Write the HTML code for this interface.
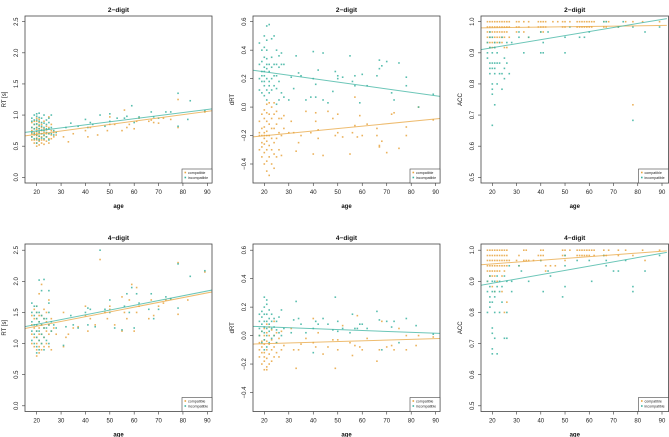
<!DOCTYPE html>
<html><head><meta charset="utf-8"><style>
html,body{margin:0;padding:0;background:#fff;}
svg{display:block;font-family:"Liberation Sans",sans-serif;}
</style></head><body>
<svg id="fig" width="669" height="437" viewBox="0 0 669 437" xmlns="http://www.w3.org/2000/svg"></svg>
<script>
// ---------- data ----------
const xTicks=[20,30,40,50,60,70,80,90];
const rtTicks=[0,0.5,1.0,1.5,2.0,2.5];
const drtTicks=[-0.4,-0.2,0,0.2,0.4,0.6];
const accTicks=[0.5,0.6,0.7,0.8,0.9,1.0];
const titles=["2\u2212digit","2\u2212digit","2\u2212digit","4\u2212digit","4\u2212digit","4\u2212digit"];
const yLabels=["RT [s]","dRT","ACC","RT [s]","dRT","ACC"];
// groups: [age, [values...]]
const p1Comp=[[18,[.6,.65,.7,.75,.8,.88]],[19,[.55,.6,.68,.72,.78,.85,.9]],[20,[.5,.55,.6,.63,.67,.7,.73,.77,.8,.85,.9,.95]],[21,[.52,.58,.62,.66,.7,.74,.78,.82,.88,.93]],[22,[.55,.6,.65,.7,.75,.8,.85]],[23,[.53,.6,.67,.72,.78,.9]],[24,[.58,.65,.7,.76,.82]],[25,[.55,.62,.7,.8,.97]],[26,[.62,.68,.75,.85]],[27,[.65,.72]],[28,[.68]],[31,[.65]],[33,[.57]],[35,[.7]],[40,[.75]],[41,[.65]],[42,[.8]],[45,[.68]],[49,[.75]],[50,[.85,.97]],[52,[.85]],[55,[.75]],[56,[1.08]],[57,[.8]],[58,[.85]],[60,[.78]],[61,[.9]],[62,[.95]],[66,[.9]],[67,[.92]],[68,[.88]],[70,[.87]],[72,[.95]],[75,[.93]],[78,[1.25,.8]],[89,[1.05]]];
const p1Inc=[[18,[.65,.72,.8,.9,.95]],[19,[.62,.7,.78,.85,.92,1.0]],[20,[.55,.62,.68,.74,.8,.86,.92,.98,1.02]],[21,[.6,.66,.72,.78,.84,.9,.96,1.03]],[22,[.63,.7,.76,.82,.88,.95]],[23,[.62,.68,.75,.8,.87,1.0]],[24,[.65,.72,.78,.85,.92]],[25,[.6,.7,.78,.88,.95]],[26,[.7,.8,1.0]],[27,[.68,.75]],[28,[.72]],[32,[.8]],[34,[.87]],[37,[.82]],[40,[.93]],[41,[.8]],[42,[.88]],[43,[.85]],[46,[1.0]],[48,[.82]],[50,[1.02,.9]],[53,[.95]],[56,[.95]],[57,[.98]],[59,[1.15]],[60,[.88]],[62,[.97]],[67,[1.05]],[68,[.97]],[70,[.95]],[73,[1.05]],[75,[1.05]],[78,[1.35,.82]],[82,[.93]],[83,[1.23]],[89,[1.07]]];
const p2Comp=[[18,[-.3,-.2,-.1,-.18]],[19,[-.35,-.25,-.15,-.05,-.2,-.28]],[20,[-.4,-.32,-.26,-.2,-.14,-.08,-.02,-.18,-.22]],[21,[-.45,-.38,-.3,-.24,-.17,-.1,-.04,.02,-.2]],[22,[-.48,-.35,-.27,-.2,-.12,-.05,.03]],[23,[-.4,-.3,-.22,-.15,-.08,0]],[24,[-.43,-.33,-.25,-.15,-.05,.03]],[25,[-.35,-.22,-.12,-.03]],[26,[-.3,-.18,-.08]],[27,[-.34,-.2,-.08]],[28,[-.15,-.06]],[30,[-.18]],[31,[-.1]],[32,[-.18]],[33,[-.31]],[34,[-.25]],[35,[-.2]],[37,[-.03]],[39,[-.18]],[40,[-.33]],[41,[-.1,-.04]],[42,[-.22,-.16]],[44,[-.34]],[46,[-.03]],[48,[-.08]],[49,[-.2]],[50,[-.18,-.05]],[52,[-.21]],[55,[-.33]],[56,[-.18]],[57,[-.13,.07]],[58,[-.21]],[59,[-.06]],[60,[-.2]],[62,[-.12]],[66,[-.15,-.2]],[67,[-.27,-.28]],[68,[-.24]],[70,[-.32]],[72,[-.05]],[73,[-.04]],[75,[-.29]],[78,[-.14,-.2]],[83,[0]],[89,[-.09]]];
const p2Inc=[[18,[.12,.2,.3,.45]],[19,[.1,.18,.25,.32,.4,.22]],[20,[.08,.15,.22,.28,.35,.42,.5,.25,.18]],[21,[.05,.12,.2,.27,.34,.4,.47,.57,.3]],[22,[.1,.18,.25,.3,.58,.15]],[23,[.12,.2,.28,.35,.48]],[24,[.15,.22,.3,.5]],[25,[.02,.13,.22,.3,.4]],[26,[.05,.18,.28,.36]],[27,[.1,.3,.38]],[28,[.07,.3]],[30,[.05]],[31,[.21]],[32,[.13]],[33,[.36]],[34,[.24]],[35,[.22]],[37,[.05]],[39,[.07]],[40,[.39,.2]],[41,[.07,.16]],[42,[.26]],[44,[.38,.05]],[46,[.03]],[48,[.11]],[49,[.25]],[50,[.2,.22]],[52,[.21]],[55,[.36]],[56,[.18]],[57,[.15,.22]],[59,[.03]],[60,[.23]],[62,[.15]],[66,[.22]],[67,[.33,.27]],[68,[.29]],[70,[.32]],[72,[.1]],[73,[.05]],[75,[.31]],[78,[.15,.21]],[83,[0]],[89,[.09]]];
const p3Comp=[[18,[1,.983,.967,.95,.933]],[19,[1,.983,.967,.95,.933,.917]],[20,[1,.983,.967,.95,.933,.917]],[21,[1,.983,.967,.95,.933,.917]],[22,[1,.983,.967,.95,.933]],[23,[1,.983,.967,.95,.933]],[24,[1,.983,.967,.95,.933]],[25,[1,.983,.967,.95,.917]],[26,[1,.983,.967,.917]],[27,[1,.983,.95]],[30,[1,.983,.967]],[31,[1,.983]],[33,[1,.967]],[35,[1,.983,.95]],[39,[1,.983]],[40,[1,.983,.967]],[41,[1,.983,.967]],[42,[1,.983]],[45,[1]],[47,[1]],[49,[1,.983]],[50,[1,.983]],[52,[1]],[55,[1,.983]],[56,[1,.983]],[57,[1,.983]],[58,[1,.983]],[59,[1,.983]],[60,[1,.983]],[61,[1,.983]],[62,[1]],[66,[1,.983]],[67,[1,.983]],[68,[1]],[72,[.983]],[75,[1]],[78,[1,.733]],[82,[1]],[89,[1]]];
const p3Inc=[[18,[.9,.883,.933]],[19,[.867,.85,.833,.95,.967,.917]],[20,[.9,.867,.85,.8,.783,.767,.667,.95]],[21,[.867,.85,.833,.733,.917,.933]],[22,[.867,.8,.9]],[23,[.867,.833,.933]],[24,[.833,.783,.95]],[25,[.883,.85,.817]],[26,[.867,.933]],[27,[.833]],[28,[.933]],[31,[.967,.95]],[33,[.9]],[35,[.95]],[40,[.967,.9]],[41,[.933,.9]],[43,[.967]],[50,[.95,.9]],[52,[.983]],[56,[.95]],[58,[.95]],[60,[.967]],[66,[1]],[67,[1]],[72,[.983]],[74,[1]],[78,[.683,.983]],[83,[.967]],[89,[.983]]];
const p4Comp=[[18,[1.0,1.15,1.3,1.45]],[19,[.95,1.1,1.25,1.4,1.55]],[20,[.8,.9,1.0,1.1,1.2,1.3,1.4,1.5,1.6]],[21,[.85,.95,1.05,1.15,1.25,1.35,1.45,1.8]],[22,[.9,1.0,1.15,1.3,1.45,1.95]],[23,[.95,1.1,1.25,1.4,1.55]],[24,[1.0,1.2,1.35,1.5]],[25,[.95,1.15,1.3,1.7]],[26,[.9,1.2,1.4]],[27,[1.25]],[28,[1.15]],[31,[.95,1.5]],[32,[1.1]],[33,[1.15]],[35,[1.25]],[37,[1.27]],[40,[1.6,1.45]],[41,[1.2]],[42,[1.4]],[44,[1.3]],[46,[2.35]],[48,[1.5]],[49,[1.4]],[50,[1.55,1.6]],[52,[1.3]],[55,[1.75,1.2]],[56,[1.5]],[57,[1.4]],[58,[1.7]],[59,[1.95]],[60,[1.2]],[61,[1.5,1.9]],[62,[1.6]],[66,[1.4]],[67,[1.7]],[68,[1.45]],[70,[1.6]],[72,[1.65]],[73,[1.7]],[75,[1.72]],[78,[1.47,2.3]],[82,[1.7]],[89,[2.15]]];
const p4Inc=[[18,[1.05,1.2,1.35,1.5,1.65]],[19,[1.0,1.15,1.3,1.45,1.6]],[20,[.85,.95,1.1,1.2,1.3,1.4,1.5,1.6]],[21,[.9,1.05,1.2,1.35,1.5,2.02]],[22,[1.0,1.15,1.3,1.45,1.85]],[23,[.9,1.1,1.25,1.4,2.03]],[24,[1.05,1.25,1.4]],[25,[1.0,1.3,1.5,1.65,1.85]],[26,[1.2,1.35]],[27,[1.3]],[28,[1.25]],[31,[.97]],[32,[1.27]],[34,[1.45]],[35,[1.3]],[37,[1.25]],[40,[1.5]],[41,[1.57,1.3]],[42,[1.55]],[44,[1.27]],[46,[2.5]],[48,[1.55]],[50,[1.7,1.5]],[52,[1.25]],[55,[1.22]],[56,[1.6]],[57,[1.8]],[58,[1.5]],[59,[1.9]],[60,[1.25]],[61,[1.8]],[62,[1.65]],[66,[1.55]],[67,[1.8]],[68,[1.4]],[70,[1.55]],[73,[1.75]],[75,[1.72]],[78,[1.57,2.28]],[83,[2.08]],[89,[2.17]]];
const p5Comp=[[18,[-.15,-.05,0,-.1]],[19,[-.2,-.12,-.04,.03,-.08]],[20,[-.24,-.18,-.12,-.06,0,.05,-.15,-.03]],[21,[-.22,-.16,-.1,-.04,.02,.08,-.24]],[22,[-.2,-.13,-.06,0,.06]],[23,[-.18,-.1,-.03,.04]],[24,[-.15,-.08,0,.1]],[25,[-.12,-.05,.02]],[26,[-.15,-.02]],[27,[-.1,.03]],[28,[-.07]],[31,[.05]],[32,[-.1]],[33,[-.23]],[34,[-.1]],[35,[-.06]],[37,[-.02]],[40,[.12,-.05]],[41,[-.08]],[42,[.02]],[44,[-.13]],[46,[-.08]],[48,[-.03]],[49,[-.23]],[50,[-.1,-.03]],[52,[.07]],[55,[-.05]],[56,[-.14]],[57,[-.07]],[58,[.14]],[59,[-.08]],[60,[-.1]],[62,[-.02]],[66,[-.18]],[67,[-.1]],[68,[.1]],[70,[-.08]],[72,[-.07]],[73,[-.1]],[75,[.05]],[78,[-.1,0]],[82,[-.07]],[83,[0]],[89,[-.01]]];
const p5Inc=[[18,[0,.05,.1,.15]],[19,[-.05,.03,.08,.13,.17]],[20,[-.1,-.03,.02,.06,.1,.15,.2,.27]],[21,[-.08,0,.05,.1,.15,.22,.25]],[22,[-.05,.03,.08,.12,.18]],[23,[-.02,.05,.1,.15]],[24,[0,.06,.12]],[25,[-.05,.04,.1]],[26,[.02,.13]],[27,[0,.18]],[28,[.05]],[31,[.02]],[32,[.11]],[33,[.24]],[34,[.12]],[35,[.08]],[37,[.02]],[40,[-.12,.05]],[41,[.1]],[42,[.08]],[44,[.12]],[46,[.08]],[48,[.04]],[49,[.27]],[50,[.1,.03]],[52,[.05]],[55,[.02]],[56,[.15]],[57,[.05]],[58,[.05]],[59,[.08]],[60,[.08]],[62,[.05]],[66,[.17]],[67,[.11]],[68,[-.1]],[70,[.1]],[72,[.06]],[73,[.1]],[75,[-.05]],[78,[.12]],[82,[.07]],[89,[.01]]];
const p6Comp=[[18,[1,.983,.967,.95,.933,.9]],[19,[1,.983,.967,.95,.933,.917]],[20,[1,.983,.967,.95,.933,.917,.883]],[21,[1,.983,.967,.95,.933,.917,.867]],[22,[1,.983,.967,.95,.933,.9]],[23,[1,.983,.967,.95,.933]],[24,[1,.983,.967,.95,.917,.867]],[25,[1,.983,.967,.95,.933,.8]],[26,[1,.983,.967,.95,.833]],[27,[.967]],[30,[.967]],[31,[.983,.95]],[33,[1,.967]],[34,[1,.967]],[35,[.967]],[37,[.967]],[39,[.983]],[40,[1,.983,.967]],[41,[1,.983]],[42,[.95,.933]],[44,[.95]],[46,[.95]],[49,[1,.983]],[50,[1,.983,.967]],[52,[1]],[55,[1,.983]],[56,[1,.983]],[57,[1,.983]],[58,[1,.983]],[59,[1,.983]],[60,[1,.983]],[61,[1]],[62,[1,.983]],[66,[1,.983]],[67,[.983]],[68,[1]],[72,[1,.983]],[75,[1]],[78,[.983]],[82,[1]],[83,[.967]],[89,[1]]];
const p6Inc=[[18,[.9,.867,.8]],[19,[.917,.883,.85,.833,.817]],[20,[.9,.867,.833,.75,.733,.683,.667]],[21,[.9,.867,.85,.8,.717]],[22,[.917,.883,.667]],[23,[.9,.867,.8]],[24,[.883,.833]],[25,[.917,.717]],[26,[.9,.717,.8]],[27,[.95]],[28,[.867,.9]],[31,[.95]],[32,[.933]],[35,[.9]],[40,[.967]],[41,[.867]],[43,[.933]],[44,[.917]],[49,[.85]],[50,[.883,.95,.983]],[55,[.967]],[60,[.967]],[61,[.9]],[66,[.983]],[67,[.95,.967]],[70,[.933]],[72,[.933]],[75,[.967]],[78,[.883,.867]],[83,[.933]],[89,[.983]]];
// regression lines: [value at age 15, value at age 92]
const fitComp=[[0.665,1.07],[-0.21,-0.08],[0.98,0.988],[1.24,1.83],[-0.06,-0.02],[0.953,0.998]];
const fitInc=[[0.72,1.1],[0.26,0.075],[0.91,1.01],[1.27,1.86],[0.065,0.015],[0.887,0.993]];
const compSeries=[p1Comp,p2Comp,p3Comp,p4Comp,p5Comp,p6Comp];
const incSeries=[p1Inc,p2Inc,p3Inc,p4Inc,p5Inc,p6Inc];

// ---------- layout ----------
const COLS=[{bx0:25,bx1:212,a:36.7,b:207.3},{bx0:253,bx1:440,a:264.3,b:435.7},{bx0:481,bx1:668.5,a:492.3,b:662}];
const ROWS=[{by0:16,by1:183,off:0},{by0:244,by1:411.5,off:228.5}];
const YMAP=[{v0:0,p0:177.3,v1:2.5,p1:21.7,ticks:rtTicks},{v0:-0.4,p0:164,v1:0.6,p1:21.7,ticks:drtTicks},{v0:0.5,p0:177.3,v1:1.0,p1:21.7,ticks:accTicks}];
const ORANGE="#E8A540", TEAL="#3BB3A0";
const NS="http://www.w3.org/2000/svg";
const svg=document.getElementById('fig');
function mk(tag,attrs,parent){const e=document.createElementNS(NS,tag);for(const k in attrs)e.setAttribute(k,attrs[k]);(parent||svg).appendChild(e);return e;}
function fmt(v){const s=Math.abs(v).toFixed(1);return (v<-1e-9?"\u2212":"")+s;}

for(let i=0;i<6;i++){
  const c=COLS[i%3], r=ROWS[Math.floor(i/3)], ym=YMAP[i%3];
  const xs=a=>c.a+(a-20)*(c.b-c.a)/70;
  const ys=v=>r.off+ym.p0+(v-ym.v0)*(ym.p1-ym.p0)/(ym.v1-ym.v0);
  const g=mk('g',{});
  
  
  const clipId='clip'+i;
  const cp=mk('clipPath',{id:clipId},g);
  mk('rect',{x:c.bx0,y:r.by0,width:c.bx1-c.bx0,height:r.by1-r.by0},cp);
  const t=mk('text',{x:(c.bx0+c.bx1)/2,y:r.by0-4,'text-anchor':'middle','font-size':6.5,'font-weight':'bold',fill:'#111'},g);
  t.textContent=titles[i];
  
  
  xTicks.forEach(v=>{
    const x=xs(v);
    mk('line',{x1:x,x2:x,y1:r.by1,y2:r.by1+3,stroke:'#333','stroke-width':0.6},g);
    const tl=mk('text',{x:x,y:r.by1+11,'text-anchor':'middle','font-size':6,fill:'#222'},g);
    tl.textContent=v;
    
    
  });
  const xl=mk('text',{x:(c.bx0+c.bx1)/2,y:r.by1+25,'text-anchor':'middle','font-size':6,'font-weight':'bold',fill:'#111'},g);
  xl.textContent='age';
  
  
  ym.ticks.forEach(v=>{
    const y=ys(v);
    mk('line',{x1:c.bx0-3,x2:c.bx0,y1:y,y2:y,stroke:'#333','stroke-width':0.6},g);
    const tx=c.bx0-7;
    const tl=mk('text',{x:tx,y:y,'text-anchor':'middle','font-size':6,fill:'#222',transform:`rotate(-90 ${tx} ${y})`},g);
    tl.textContent=fmt(v);
    
    
  });
  const ylx=c.bx0-19, yly=(r.by0+r.by1)/2;
  const yl=mk('text',{x:ylx,y:yly,'text-anchor':'middle','font-size':6,fill:'#111',transform:`rotate(-90 ${ylx} ${yly})`},g);
  yl.textContent=yLabels[i];
  
  
  const pg=mk('g',{'clip-path':`url(#${clipId})`},g);
  [[compSeries[i],ORANGE,'compatible'],[incSeries[i],TEAL,'incompatible']].forEach(([ser,col,nm])=>{
    ser.forEach(([age,vals])=>{
      vals.forEach(v=>{
        const p=mk('rect',{x:xs(age)-0.8,y:ys(v)-0.8,width:1.6,height:1.6,fill:col,'fill-opacity':0.85},pg);
        
        
      });
    });
  });
  [[fitComp[i],ORANGE,'compatible'],[fitInc[i],TEAL,'incompatible']].forEach(([f,col,nm])=>{
    const l=mk('line',{x1:xs(15),y1:ys(f[0]),x2:xs(92),y2:ys(f[1]),stroke:col,'stroke-width':1,'stroke-opacity':0.75},pg);
    
    
  });
  const bx=mk('rect',{x:c.bx0,y:r.by0,width:c.bx1-c.bx0,height:r.by1-r.by0,fill:'none',stroke:'#444','stroke-width':0.8},g);
  
  
  const lg=mk('g',{},g);
  
  
  const lx=c.bx1-30, ly=r.by1-14;
  mk('rect',{x:lx,y:ly,width:30,height:14,fill:'#fff',stroke:'#444','stroke-width':0.6},lg);
  [['compatible',ORANGE],['incompatible',TEAL]].forEach(([nm,col],k)=>{
    mk('rect',{x:lx+2.5,y:ly+3.5+k*5-0.8,width:1.6,height:1.6,fill:col},lg);
    const lt=mk('text',{x:lx+6,y:ly+5+k*5,'font-size':3.6,fill:'#222'},lg);
    lt.textContent=nm;
    
    
  });
}
</script>
</body></html>
